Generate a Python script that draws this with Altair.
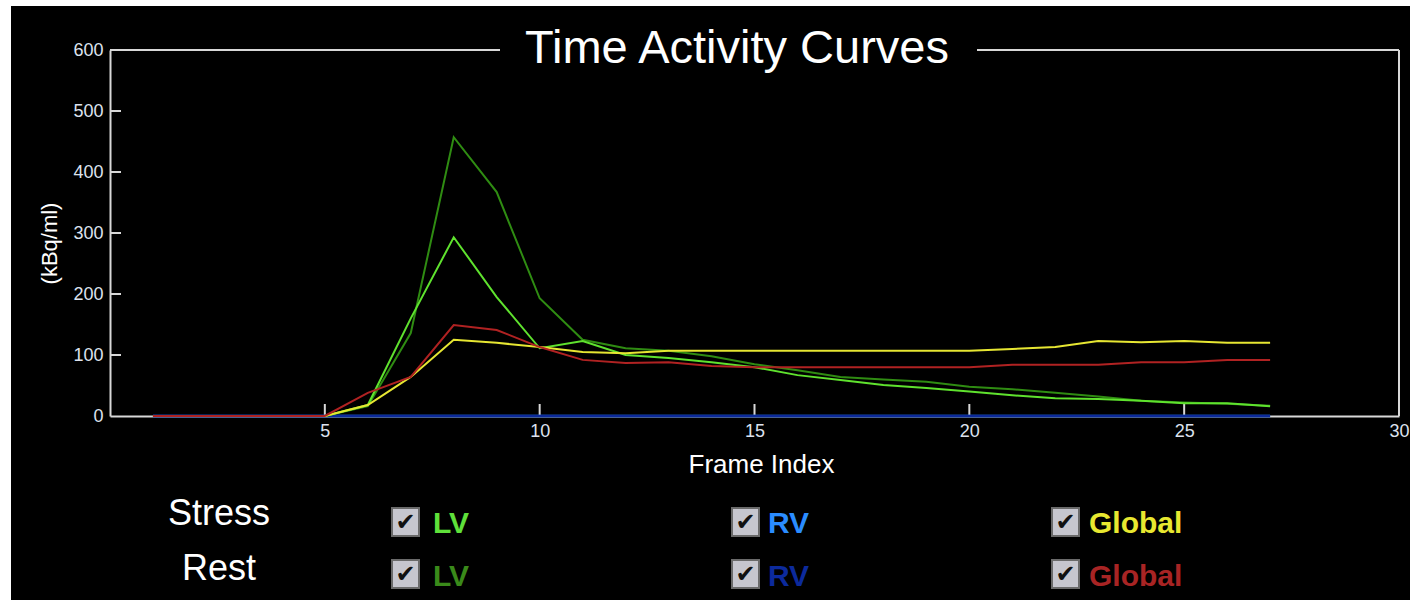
import altair as alt
import pandas as pd

# ---------------- data ----------------
frames = list(range(1, 28))
stress_lv = [0, 0, 0, 0, 0, 18, 160, 293, 195, 111, 123, 100, 95, 88, 80, 67, 59, 51, 46, 40, 34, 29, 28, 25, 21, 21, 16]
rest_lv = [0, 0, 0, 0, 0, 16, 136, 457, 367, 193, 125, 111, 107, 98, 85, 75, 64, 60, 56, 48, 44, 38, 32, 25, 22, 20, 17]
stress_rv = [0] * 27
rest_rv = [0] * 27
stress_global = [0, 0, 0, 0, 0, 18, 64, 125, 120, 113, 105, 103, 107, 107, 107, 107, 107, 107, 107, 107, 110, 113, 123, 121, 123, 120, 120]
rest_global = [0, 0, 0, 0, 0, 38, 64, 149, 141, 113, 92, 87, 88, 82, 80, 80, 80, 80, 80, 80, 84, 84, 84, 88, 88, 92, 92]

series_names = ["Stress RV", "Rest RV", "Rest LV", "Stress LV", "Stress Global", "Rest Global"]
series_values = [stress_rv, rest_rv, rest_lv, stress_lv, stress_global, rest_global]
series_colors = ["#2a8cff", "#0c2a9c", "#2f8c12", "#5fe22e", "#e6e632", "#b02222"]

y_ticks = [0, 100, 200, 300, 400, 500, 600]
x_ticks = [5, 10, 15, 20, 25, 30]
inner_y_ticks = [100, 200, 300, 400, 500]
inner_x_ticks = [5, 10, 15, 20, 25]

legend_rows = ["Stress", "Rest"]
legend_items = ["LV", "RV", "Global"]
legend_colors = {
    "Stress": ["#5fe03a", "#2a8cff", "#e8e830"],
    "Rest": ["#3a8a1a", "#0c2a9c", "#a82424"],
}

chart_title = "Time Activity Curves"
x_title = "Frame Index"
y_title = "(kBq/ml)"

# ---------------- layout ----------------
PADL, PADT, PADR, PADB = 110, 50, 11, 184
W, H = 1410 - PADL - PADR, 600 - PADT - PADB

rows = []
for name, vals in zip(series_names, series_values):
    for f, v in zip(frames, vals):
        rows.append({"frame": f, "value": v, "series": name})
df = pd.DataFrame(rows)

one = pd.DataFrame({"k": [0]})

x_scale = alt.Scale(domain=[0, 30], nice=False, zero=False)
y_scale = alt.Scale(domain=[0, 600], nice=False)

x_axis = alt.Axis(
    values=x_ticks, labelPadding=6, labelFlush=False, title=x_title,
    titleFontSize=26, titleX=651, titleY=56, titleAlign="center",
    titleBaseline="alphabetic", titleFontWeight="normal",
)
y_axis = alt.Axis(
    values=y_ticks, labelPadding=7, title=y_title, titleFontSize=22,
    titleX=-61, titleY=193, titleAngle=270, titleAlign="center",
    titleBaseline="middle", titleFontWeight="normal",
)

X = alt.X("frame:Q", scale=x_scale, axis=x_axis)
Y = alt.Y("value:Q", scale=y_scale, axis=y_axis)

def px(cx):
    return cx - PADL

def py(cy):
    return cy - PADT

layers = []

# thin white strips at the top and left edges of the picture
layers.append(
    alt.Chart(one).mark_rect(color="white").encode(
        x=alt.value(px(0)), x2=alt.value(px(1410)),
        y=alt.value(py(0)), y2=alt.value(py(6)),
    )
)
layers.append(
    alt.Chart(one).mark_rect(color="white").encode(
        x=alt.value(px(0)), x2=alt.value(px(11)),
        y=alt.value(py(0)), y2=alt.value(py(600)),
    )
)

# frame: top border broken by the title, and right border
border_color = "#d8d8d8"
layers.append(
    alt.Chart(one).mark_rule(color=border_color, strokeWidth=2).encode(
        x=alt.value(0), x2=alt.value(px(500)), y=alt.value(0)
    )
)
layers.append(
    alt.Chart(one).mark_rule(color=border_color, strokeWidth=2).encode(
        x=alt.value(px(977)), x2=alt.value(W), y=alt.value(0)
    )
)
layers.append(
    alt.Chart(one).mark_rule(color=border_color, strokeWidth=2).encode(
        x=alt.value(W), y=alt.value(0), y2=alt.value(H)
    )
)

# inward tick marks
layers.append(
    alt.Chart(pd.DataFrame({"value": inner_y_ticks})).mark_rule(color=border_color, strokeWidth=2).encode(
        y=Y, x=alt.value(0), x2=alt.value(11)
    )
)
layers.append(
    alt.Chart(pd.DataFrame({"frame": inner_x_ticks})).mark_rule(color=border_color, strokeWidth=2).encode(
        x=X, y=alt.value(H), y2=alt.value(H - 12)
    )
)

# curves
for name, color in zip(series_names, series_colors):
    sw = 2.5 if "RV" in name else 2
    layers.append(
        alt.Chart(df).transform_filter(alt.datum.series == name)
        .mark_line(color=color, strokeWidth=sw, clip=False)
        .encode(x=X, y=Y)
    )

# title
layers.append(
    alt.Chart(pd.DataFrame({"t": [chart_title]})).mark_text(
        font="Liberation Sans", fontSize=47, color="white", align="center", baseline="alphabetic"
    ).encode(text="t:N", x=alt.value(px(737)), y=alt.value(py(63)))
)

# bottom legend
row_label_y = {"Stress": 525, "Rest": 580}
row_box_top = {"Stress": 508, "Rest": 560}
row_text_y = {"Stress": 533, "Rest": 586}
box_left = [392, 732, 1052]
text_left = [433, 768, 1089]

for r in legend_rows:
    layers.append(
        alt.Chart(pd.DataFrame({"t": [r]})).mark_text(
            font="Liberation Sans", fontSize=36, color="white", align="center", baseline="alphabetic"
        ).encode(text="t:N", x=alt.value(px(219)), y=alt.value(py(row_label_y[r])))
    )
    for i, item in enumerate(legend_items):
        bx = box_left[i]
        by = row_box_top[r]
        layers.append(
            alt.Chart(one).mark_rect(fill="#c6c6ce", stroke="#6a6a6a", strokeWidth=2).encode(
                x=alt.value(px(bx)), x2=alt.value(px(bx + 27)),
                y=alt.value(py(by)), y2=alt.value(py(by + 28)),
            )
        )
        layers.append(
            alt.Chart(pd.DataFrame({"t": ["\u2714"]})).mark_text(
                font="DejaVu Sans", fontSize=24, color="#111111", align="center", baseline="middle"
            ).encode(text="t:N", x=alt.value(px(bx + 13.5)), y=alt.value(py(by + 15)))
        )
        layers.append(
            alt.Chart(pd.DataFrame({"t": [item]})).mark_text(
                font="Liberation Sans", fontSize=30, fontWeight="bold",
                color=legend_colors[r][i], align="left", baseline="alphabetic"
            ).encode(text="t:N", x=alt.value(px(text_left[i])), y=alt.value(py(row_text_y[r])))
        )

chart = alt.layer(*layers).properties(
    width=W, height=H,
    autosize=alt.AutoSizeParams(type="none"),
    padding={"left": PADL, "top": PADT, "right": PADR, "bottom": PADB},
    background="black",
).configure_view(stroke=None, fill=None).configure_axis(
    domainColor=border_color, domainWidth=2, labelColor="#dde2ee",
    labelFont="Liberation Sans", labelFontSize=18, titleColor="white",
    titleFont="Liberation Sans", grid=False, ticks=False, zindex=0,
)

chart.save("out.html", embed_options={"renderer": "svg", "actions": False})
